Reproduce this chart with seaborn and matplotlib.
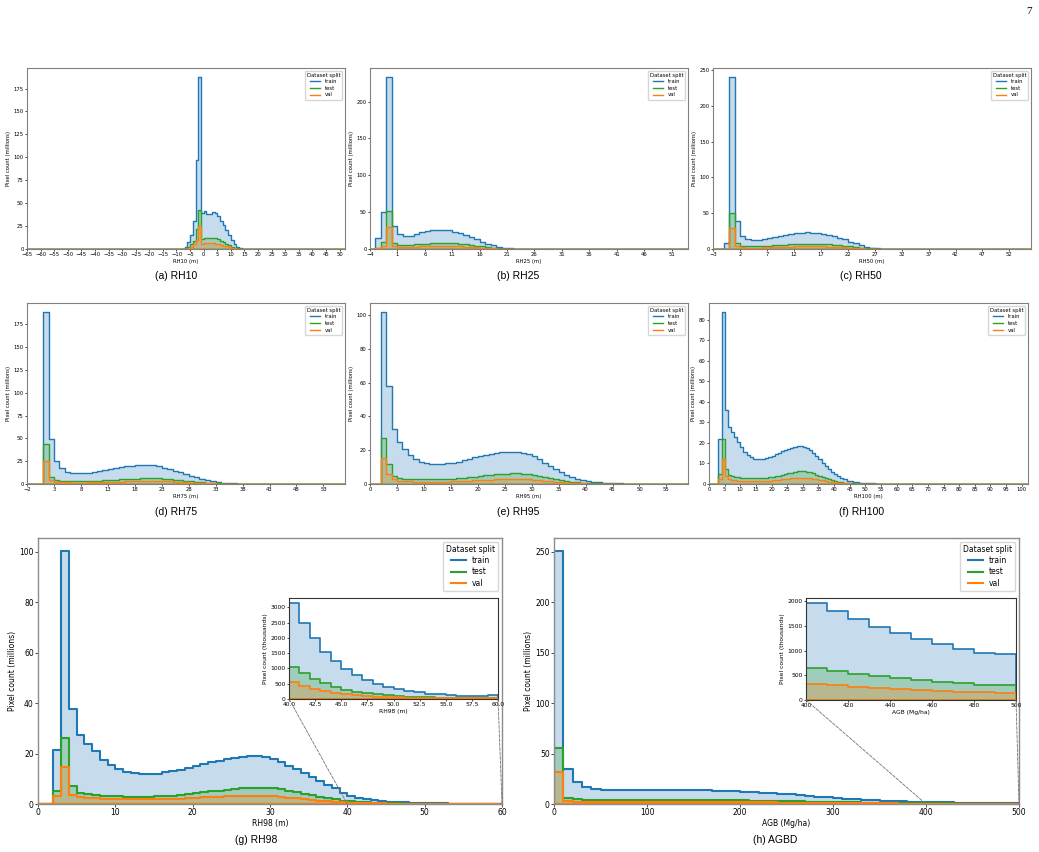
import numpy as np
import pandas as pd
import seaborn as sns
import matplotlib.pyplot as plt
from matplotlib.lines import Line2D
from matplotlib.patches import ConnectionPatch
from matplotlib.ticker import MultipleLocator

# pixel counts per bin (millions); bins are 1 m wide, first bin starts at *_start
rh10_start = -8
rh10_train = [0.3, 2.5, 8, 15, 30, 97, 188, 39, 41, 38, 38, 40, 39, 36, 31, 26, 21, 15, 9.5, 5, 2.5, 1, 0.4, 0.15]
rh10_test = [0.1, 0.8, 2.5, 5, 9, 22, 43, 11, 12.5, 12.5, 12, 12, 11.5, 10.5, 9, 7.5, 5.5, 4, 2.5, 1.3, 0.6, 0.3, 0.1, 0.05]
rh10_val = [0.05, 0.4, 1.2, 2.5, 5, 10, 25.5, 5.5, 6.5, 6.3, 6, 6, 5.8, 5.2, 4.5, 3.7, 2.8, 2, 1.2, 0.6, 0.3, 0.15, 0.05, 0.02]

rh25_start = -3
rh25_train = [15, 50, 234, 31.5, 20, 17, 18, 21, 22.5, 25, 26, 26, 26, 26, 23.5, 21.5, 19.5, 16.5, 13.5, 10, 7, 5, 3.2, 1.8, 1, 0.5, 0.25, 0.1]
rh25_test = [2, 10, 52, 8.5, 6, 5.5, 5.8, 6.2, 6.8, 7.3, 7.7, 8, 8, 8, 7.7, 7.2, 6.5, 5.6, 4.6, 3.6, 2.6, 1.8, 1.1, 0.65, 0.35, 0.18, 0.08, 0.03]
rh25_val = [1, 4, 30, 4.5, 3.2, 3, 3.1, 3.3, 3.6, 3.8, 4, 4.1, 4.1, 4, 3.8, 3.5, 3.1, 2.7, 2.2, 1.7, 1.2, 0.8, 0.5, 0.3, 0.15, 0.08, 0.04, 0.02]

rh50_start = -1
rh50_train = [8, 241, 39, 17.7, 13.5, 12, 12.5, 14, 15.4, 17.2, 18.6, 20, 21.4, 22.3, 22.8, 23.3, 22.8, 22.8, 21.4, 20, 18, 15.8, 13.5, 10.2, 7.9, 5.1, 3.3, 1.9, 0.9, 0.5, 0.25, 0.1]
rh50_test = [0.5, 51, 8, 4.5, 3.8, 3.6, 3.7, 4, 4.5, 5, 5.5, 6, 6.4, 6.7, 7, 7.2, 7.2, 7.1, 6.9, 6.5, 6, 5.3, 4.5, 3.6, 2.8, 2, 1.3, 0.8, 0.45, 0.25, 0.12, 0.05]
rh50_val = [0.3, 29.5, 4, 2.5, 2, 1.9, 1.9, 2.1, 2.3, 2.6, 2.9, 3.1, 3.3, 3.5, 3.6, 3.7, 3.7, 3.6, 3.5, 3.3, 3, 2.7, 2.3, 1.8, 1.4, 1, 0.65, 0.4, 0.22, 0.12, 0.06, 0.03]

rh75_start = 1
rh75_train = [189, 49, 25, 17, 13.5, 12, 11.7, 11.7, 12.4, 13.5, 14.6, 15.7, 16.8, 17.9, 18.7, 19.4, 20.1, 20.5, 20.9, 20.9, 20.5, 19.4, 17.9, 16.5, 14.6, 12.8, 11, 9.2, 7.3, 5.9, 4.4, 3.3, 2.2, 1.5, 1.1, 0.7, 0.45, 0.3, 0.2, 0.1]
rh75_test = [44, 8, 4.5, 3.5, 3, 2.9, 2.9, 3, 3.2, 3.5, 3.8, 4.1, 4.4, 4.8, 5.1, 5.4, 5.7, 6, 6.2, 6.3, 6.3, 6.1, 5.8, 5.4, 4.9, 4.3, 3.7, 3.1, 2.5, 1.9, 1.4, 1, 0.7, 0.45, 0.3, 0.2, 0.12, 0.07, 0.04, 0.02]
rh75_val = [25, 4, 2.5, 2, 1.7, 1.6, 1.6, 1.6, 1.7, 1.8, 2, 2.2, 2.4, 2.5, 2.7, 2.9, 3, 3.1, 3.2, 3.2, 3.2, 3.1, 3, 2.8, 2.5, 2.2, 1.9, 1.6, 1.3, 1, 0.75, 0.55, 0.38, 0.25, 0.16, 0.1, 0.06, 0.03, 0.02, 0.01]

rh95_start = 2
rh95_train = [102, 58, 32.5, 25, 21, 17, 14.5, 13, 12.5, 12, 12, 12, 12.3, 12.7, 13.3, 14, 14.8, 15.7, 16.5, 17.2, 17.8, 18.3, 18.8, 19.1, 19.2, 19.1, 18.6, 17.7, 16.3, 14.6, 12.6, 10.7, 8.8, 7, 5.4, 4.1, 3.1, 2.3, 1.7, 1.3, 1, 0.75, 0.55, 0.4, 0.3, 0.22, 0.16, 0.12, 0.09, 0.07, 0.05, 0.03]
rh95_test = [27, 12, 5, 3.7, 3.2, 2.9, 2.8, 2.7, 2.7, 2.7, 2.7, 2.8, 2.9, 3.1, 3.3, 3.6, 3.9, 4.3, 4.7, 5.1, 5.4, 5.8, 6, 6.2, 6.3, 6.3, 6.1, 5.8, 5.3, 4.7, 4, 3.4, 2.8, 2.2, 1.7, 1.3, 1, 0.75, 0.55, 0.4, 0.3, 0.22, 0.16, 0.12, 0.09, 0.07, 0.05, 0.04, 0.03, 0.02, 0.015, 0.01]
rh95_val = [15.5, 6, 3, 2, 1.7, 1.5, 1.4, 1.35, 1.3, 1.3, 1.3, 1.35, 1.4, 1.5, 1.6, 1.75, 1.9, 2.1, 2.3, 2.45, 2.6, 2.75, 2.85, 2.95, 3, 3, 2.9, 2.75, 2.5, 2.2, 1.9, 1.6, 1.3, 1, 0.8, 0.6, 0.45, 0.35, 0.26, 0.2, 0.15, 0.11, 0.08, 0.06, 0.045, 0.035, 0.025, 0.02, 0.015, 0.01, 0.008, 0.005]

rh100_start = 3
rh100_train = [22, 84, 36, 28, 25.5, 23, 20.5, 18, 15.5, 14, 13, 12.4, 12, 12, 12.2, 12.6, 13.2, 13.8, 14.5, 15.2, 15.9, 16.6, 17.2, 17.7, 18.1, 18.3, 18.4, 18.2, 17.7, 16.7, 15.3, 13.7, 12, 10.3, 8.7, 7.2, 5.9, 4.7, 3.7, 2.9, 2.2, 1.7, 1.3, 1, 0.8, 0.6, 0.5, 0.4, 0.32, 0.26, 0.2, 0.16, 0.13, 0.1, 0.08, 0.06, 0.05, 0.04, 0.03, 0.02, 0.015]
rh100_test = [5, 22, 7.5, 4.5, 3.8, 3.5, 3.3, 3.1, 3, 2.9, 2.85, 2.8, 2.8, 2.85, 2.9, 3, 3.2, 3.4, 3.7, 4, 4.4, 4.8, 5.2, 5.6, 5.9, 6.1, 6.2, 6.2, 6, 5.7, 5.2, 4.6, 4, 3.4, 2.8, 2.3, 1.8, 1.4, 1.1, 0.8, 0.6, 0.45, 0.35, 0.27, 0.2, 0.15, 0.12, 0.1, 0.08, 0.06, 0.05, 0.04, 0.03, 0.025, 0.02, 0.015, 0.01, 0.01, 0.008, 0.005, 0.004]
rh100_val = [2.5, 12, 4, 2.5, 2, 1.8, 1.7, 1.6, 1.55, 1.5, 1.45, 1.45, 1.45, 1.45, 1.5, 1.55, 1.65, 1.75, 1.9, 2.05, 2.2, 2.4, 2.55, 2.7, 2.85, 2.95, 3, 3, 2.95, 2.8, 2.6, 2.35, 2.05, 1.75, 1.45, 1.2, 0.95, 0.75, 0.58, 0.45, 0.34, 0.26, 0.2, 0.15, 0.11, 0.08, 0.06, 0.05, 0.04, 0.03, 0.025, 0.02, 0.015, 0.012, 0.01, 0.008, 0.006, 0.005, 0.004, 0.003, 0.002]

rh98_start = 2
rh98_train = [21.5, 100.5, 37.5, 27.5, 24, 21, 17.5, 15.5, 13.8, 12.8, 12.2, 12, 12, 12, 12.5, 13, 13.5, 14.3, 15.2, 15.8, 16.5, 17.2, 17.7, 18.2, 18.7, 19, 19, 18.7, 18, 16.8, 15.2, 13.8, 12.2, 10.6, 9, 7.6, 6.2, 4.5, 3.15, 2.5, 1.99, 1.555, 1.25, 0.99, 0.78, 0.63, 0.49, 0.39, 0.325, 0.26, 0.217, 0.174, 0.152, 0.12, 0.109, 0.098, 0.098, 0.13]
rh98_test = [5, 26, 7, 4.5, 3.8, 3.5, 3.3, 3.1, 3, 2.9, 2.9, 2.9, 2.9, 3, 3.1, 3.3, 3.6, 3.9, 4.2, 4.6, 5, 5.3, 5.6, 6.1, 6.3, 6.5, 6.5, 6.4, 6.2, 5.8, 5.3, 4.7, 4.1, 3.5, 2.9, 2.4, 1.9, 1.35, 1.06, 0.84, 0.65, 0.52, 0.4, 0.31, 0.24, 0.19, 0.15, 0.12, 0.095, 0.08, 0.065, 0.055, 0.048, 0.042, 0.038, 0.035, 0.033, 0.04]
rh98_val = [3.3, 14.5, 3.7, 2.8, 2.4, 2.2, 2.1, 2, 1.95, 1.9, 1.85, 1.85, 1.85, 1.9, 1.95, 2.05, 2.15, 2.3, 2.45, 2.6, 2.75, 2.9, 3.05, 3.15, 3.25, 3.3, 3.3, 3.2, 3.05, 2.8, 2.5, 2.2, 1.85, 1.55, 1.25, 1, 0.8, 0.65, 0.55, 0.43, 0.34, 0.27, 0.21, 0.165, 0.13, 0.1, 0.08, 0.065, 0.05, 0.042, 0.035, 0.03, 0.026, 0.023, 0.02, 0.018, 0.017, 0.02]

# AGB bins are 10 Mg/ha wide
agb_start = 0
agb_train = [251, 35, 21.5, 17.2, 15.3, 14.3, 13.8, 13.6, 13.6, 13.7, 13.8, 13.9, 13.9, 13.9, 13.8, 13.6, 13.4, 13.1, 12.8, 12.4, 12, 11.5, 11, 10.6, 10.2, 9.6, 8.9, 8.1, 7.4, 6.6, 5.9, 5.2, 4.6, 4.0, 3.5, 3.1, 2.8, 2.5, 2.3, 2.15, 1.966, 1.798, 1.636, 1.481, 1.347, 1.239, 1.125, 1.037, 0.956, 0.922]
agb_test = [55, 6, 4.6, 4.1, 3.9, 3.8, 3.8, 3.8, 3.8, 3.8, 3.8, 3.85, 3.9, 3.9, 3.9, 3.9, 3.85, 3.8, 3.7, 3.6, 3.5, 3.35, 3.2, 3.05, 2.9, 2.75, 2.55, 2.35, 2.2, 2, 1.85, 1.7, 1.55, 1.4, 1.27, 1.15, 1.03, 0.93, 0.84, 0.72, 0.65, 0.59, 0.535, 0.48, 0.44, 0.4, 0.365, 0.335, 0.31, 0.295]
agb_val = [31.5, 3, 2.3, 2.05, 1.95, 1.9, 1.9, 1.9, 1.9, 1.9, 1.9, 1.92, 1.95, 1.95, 1.95, 1.95, 1.92, 1.9, 1.85, 1.8, 1.75, 1.68, 1.6, 1.52, 1.44, 1.36, 1.27, 1.18, 1.1, 1.02, 0.94, 0.86, 0.79, 0.72, 0.65, 0.59, 0.53, 0.48, 0.42, 0.36, 0.325, 0.295, 0.27, 0.245, 0.22, 0.2, 0.185, 0.17, 0.155, 0.145]

splits = ['train', 'test', 'val']
colors = {'train': '#1f77b4', 'test': '#2ca02c', 'val': '#ff7f0e'}

W, H = 1039, 852
fig = plt.figure(figsize=(W / 100, H / 100), dpi=100)


def box(l, t, r, b):
    return [l / W, 1 - b / H, (r - l) / W, (b - t) / H]


def draw_hist(ax, start, width, lo, hi, series, scale=1.0, lw=1.0):
    edges = [float(e) for e in np.arange(lo, hi + width / 2, width)]
    for split, vals in zip(splits, series):
        df = pd.DataFrame({'x': start + width * (np.arange(len(vals)) + 0.5),
                           'n': np.asarray(vals, dtype=float) * scale})
        sns.histplot(data=df, x='x', weights='n', bins=edges, element='step',
                     fill=True, alpha=0.25, color=colors[split], linewidth=lw, ax=ax)


def style(ax, fs, tl, spine, slw):
    ax.tick_params(labelsize=fs, length=tl, width=0.5, pad=1)
    for s in ax.spines.values():
        s.set_color(spine)
        s.set_linewidth(slw)


def add_legend(ax, fs, lw):
    handles = [Line2D([], [], color=colors[s], lw=lw) for s in splits]
    ax.legend(handles, splits, title='Dataset split', loc='upper right',
              fontsize=fs, title_fontsize=fs, borderpad=0.4, labelspacing=0.3)


# ---- small panels ----
small = [
    ('RH10', rh10_start, (-65, 52), 25, [rh10_train, rh10_test, rh10_val], (27, 68, 345, 249), '(a) RH10', (176, 276)),
    ('RH25', rh25_start, (-4, 54), 50, [rh25_train, rh25_test, rh25_val], (370, 68, 688, 249), '(b) RH25', (518, 276)),
    ('RH50', rh50_start, (-3, 56), 50, [rh50_train, rh50_test, rh50_val], (713, 68, 1031, 249), '(c) RH50', (861, 276)),
    ('RH75', rh75_start, (-2, 57), 25, [rh75_train, rh75_test, rh75_val], (27, 303, 345, 484), '(d) RH75', (176, 512)),
    ('RH95', rh95_start, (0, 59), 20, [rh95_train, rh95_test, rh95_val], (370, 303, 688, 484), '(e) RH95', (518, 512)),
    ('RH100', rh100_start, (0, 102), 10, [rh100_train, rh100_test, rh100_val], (709, 303, 1028, 484), '(f) RH100', (862, 512)),
]

for name, start, (lo, hi), ystep, series, pos, cap, (cx, cy) in small:
    ax = fig.add_axes(box(*pos))
    draw_hist(ax, start, 1, lo, hi, series, lw=1.0)
    ax.set_xlim(lo, hi)
    ax.set_xticks(np.arange(lo, hi, 5))
    ax.yaxis.set_major_locator(MultipleLocator(ystep))
    ax.set_xlabel(f'{name} (m)', fontsize=3.8, labelpad=1)
    ax.set_ylabel('Pixel count (millions)', fontsize=3.8, labelpad=2)
    style(ax, 3.8, 1.5, '0.5', 0.8)
    add_legend(ax, 3.8, 1.0)
    fig.text(cx / W, 1 - cy / H, cap, ha='center', va='center',
             fontsize=7.5, family='Liberation Sans')

# ---- big panels with zoomed insets ----
big = [
    ('RH98 (m)', rh98_start, 1, (0, 60), 20, [rh98_train, rh98_test, rh98_val],
     (38, 538, 502, 804), (289, 598, 498, 699), (40, 60), 2.5, '(g) RH98', (256, 840)),
    ('AGB (Mg/ha)', agb_start, 10, (0, 500), 50, [agb_train, agb_test, agb_val],
     (554, 538, 1019, 804), (806, 598, 1016, 700), (400, 500), 20, '(h) AGBD', (775, 840)),
]

for xlab, start, width, (lo, hi), ystep, series, pos, ipos, (zlo, zhi), zstep, cap, (cx, cy) in big:
    ax = fig.add_axes(box(*pos))
    draw_hist(ax, start, width, lo, hi, series, lw=1.5)
    ax.set_xlim(lo, hi)
    ax.yaxis.set_major_locator(MultipleLocator(ystep))
    ax.set_xlabel(xlab, fontsize=5.5, labelpad=1.5)
    ax.set_ylabel('Pixel count (millions)', fontsize=5.5, labelpad=2)
    style(ax, 5.5, 2, '0.55', 1.0)
    add_legend(ax, 5.5, 1.5)

    axins = fig.add_axes(box(*ipos))
    draw_hist(axins, start, width, lo, hi, series, scale=1000, lw=1.2)
    axins.set_xlim(zlo, zhi)
    i0 = int(round((zlo - start) / width))
    top = max(max(s[i0:]) for s in series) * 1000
    axins.set_ylim(0, top * 1.05)
    axins.set_xticks(np.arange(zlo, zhi + zstep / 2, zstep))
    axins.yaxis.set_major_locator(MultipleLocator(500))
    axins.set_xlabel(xlab, fontsize=4.3, labelpad=1)
    axins.set_ylabel('Pixel count (thousands)', fontsize=4.3, labelpad=1.5)
    style(axins, 4.3, 1.5, '0.2', 0.8)

    for xv in (zlo, zhi):
        con = ConnectionPatch(xyA=(xv, 0), coordsA=axins.transData,
                              xyB=(xv, 0), coordsB=ax.transData,
                              color='0.45', lw=0.6, ls='--')
        fig.add_artist(con)

    fig.text(cx / W, 1 - cy / H, cap, ha='center', va='center',
             fontsize=7.5, family='Liberation Sans')

fig.text(1029 / W, 1 - 12 / H, '7', ha='center', va='center',
         fontsize=8, family='Liberation Serif')

fig.savefig('out.png', dpi=100)
